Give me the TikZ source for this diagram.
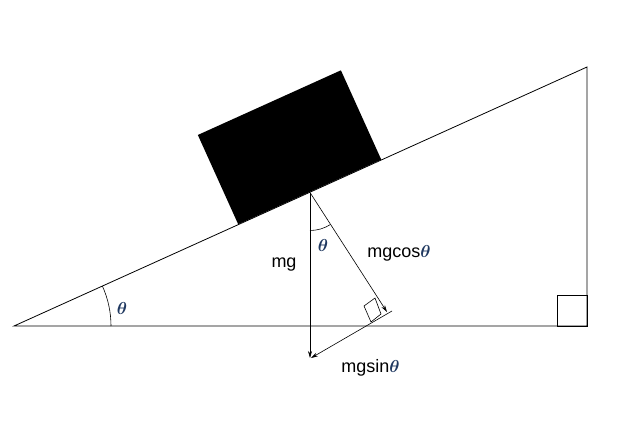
\documentclass[tikz,border=0pt]{standalone}
\usepackage{fontspec}
\setmainfont{Liberation Sans}
\usepackage{amsmath}
\usepackage{xcolor}
\definecolor{thetablue}{RGB}{31,56,96}
\usetikzlibrary{arrows.meta}
\newcommand{\thb}{\textcolor{thetablue}{$\boldsymbol{\theta}$}}

\begin{document}
\begin{tikzpicture}[x=1pt,y=1pt,>={Stealth[length=7pt,width=4pt]},line width=0.8pt,
  force/.style={->,line width=0.6pt},
  thin line/.style={line width=0.6pt},
  lbl/.style={font=\fontsize{18}{20}\selectfont,inner sep=0pt}]
\useasboundingbox (0,0) rectangle (628,421);

            % incline
            \coordinate (A) at (14,95);
            \coordinate (B) at (587,95);
            \coordinate (C) at (587,354);
            \draw (A) -- (B) -- (C) -- cycle;
            \draw (557,95) rectangle (587,126);

            % block
            \node[fill=black, inner sep=0pt, minimum width=157pt, minimum height=98pt,
                  rotate=24.32, anchor=south west] (block) at (238,196.2) {};

            % forces
            \coordinate (O) at (310,228.5);
            \coordinate (mgend) at (310,63);
            \coordinate (cosend) at (387,109);
            \coordinate (sinstart) at (392,110);
            \coordinate (sinend) at (311,63);
            \draw[force] (O) to (mgend);
            \draw[force] (O) to (cosend);
            \draw[force] (sinstart) to (sinend);
            \draw[thin line] (375,123) -- (364,115) -- (371,99) -- (381,107) -- cycle;

            % angles
            \draw[thin line] ([shift={(0:97pt)}]A) arc[start angle=0, end angle=24.32, radius=97pt];
            \draw[thin line] ([shift={(270:38pt)}]O) arc[start angle=270, end angle=302.8, radius=38pt];

            \node[lbl] (t1) at (122,113) {\thb};
            \node[lbl] (t2) at (323,176) {\thb};
            \node[lbl] (mg) at (284,156) {mg};
            \node[lbl, anchor=west] (cos) at (367,168) {mgcos\thb};
            \node[lbl, anchor=west] (sin) at (341,53) {mgsin\thb};

            ;
        \end{tikzpicture}
\end{document}
